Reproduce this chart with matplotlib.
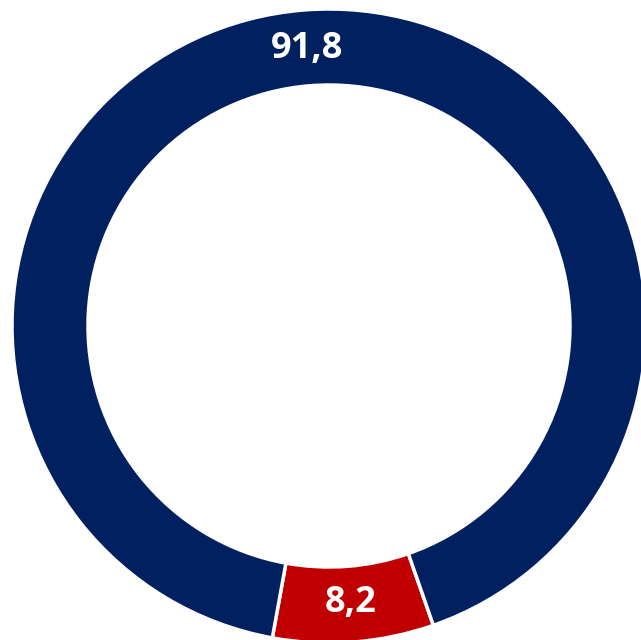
import numpy as np
import matplotlib
matplotlib.use("Agg")
import matplotlib.pyplot as plt

labels = ["8,2", "91,8"]
values = [8.2, 91.8]
colors = ["#C00000", "#002060"]

W, H = 641, 640
fig = plt.figure(figsize=(W / 100, H / 100), dpi=100)
ax = fig.add_axes([0, 0, 1, 1])

cx, cy = 329, H - 326
R, r_in = 317, 241
start = -100.3

wedges, _ = ax.pie(values, colors=colors, startangle=start, counterclock=True,
                   center=(cx, cy), radius=R, frame=True,
                   wedgeprops=dict(width=R - r_in, edgecolor="white", linewidth=2.5))
ax.set_xlim(0, W)
ax.set_ylim(0, H)
ax.set_aspect("equal")
ax.axis("off")

rl = 278
for w, lab in zip(wedges, labels):
    mid = np.deg2rad((w.theta1 + w.theta2) / 2)
    ax.text(cx + rl * np.cos(mid), cy + rl * np.sin(mid), lab,
            ha="center", va="center", color="white", fontsize=26,
            fontweight="bold", family=["Open Sans", "DejaVu Sans"])

fig.savefig("out.png", dpi=100)
